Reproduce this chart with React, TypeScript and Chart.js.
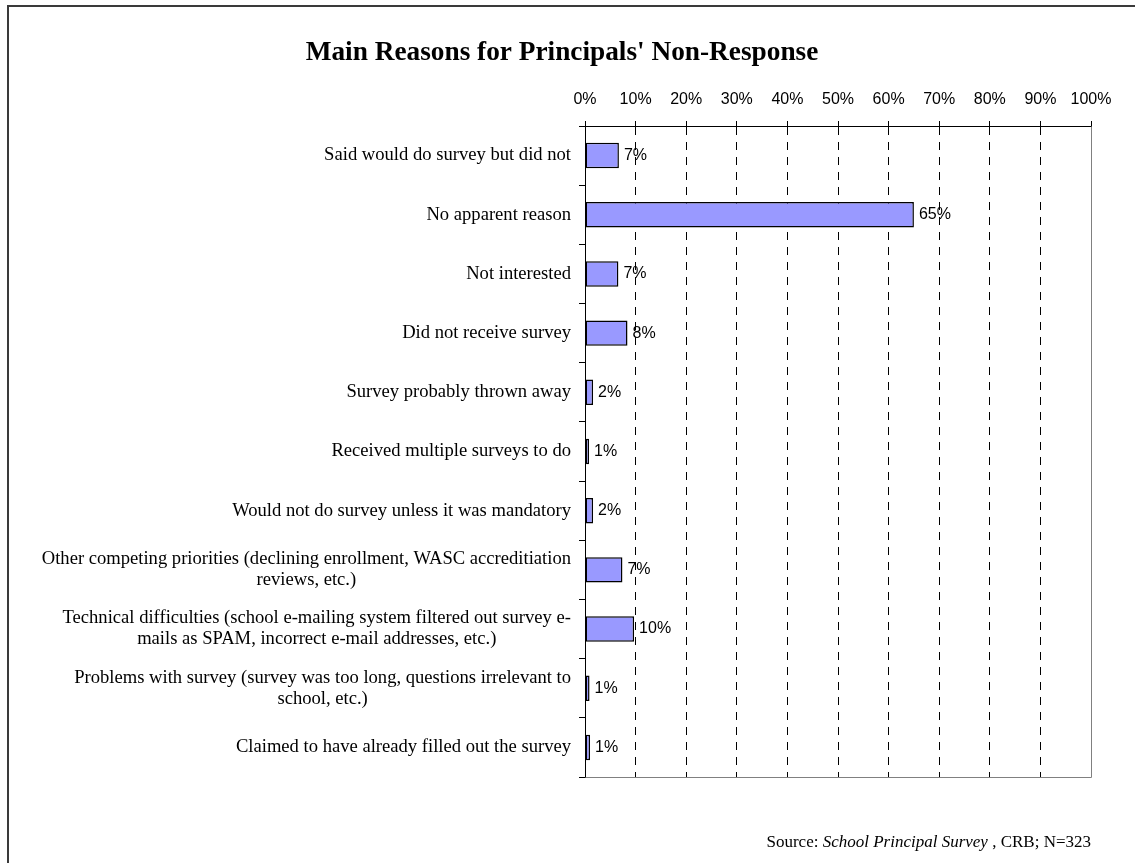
import React, { useEffect, useRef } from "react";
import { Chart, registerables } from "chart.js";

Chart.register(...registerables);

const TITLE = "Main Reasons for Principals' Non-Response";

const categories: string[][] = [
  ["Said would do survey but did not"],
  ["No apparent reason"],
  ["Not interested"],
  ["Did not receive survey"],
  ["Survey probably thrown away"],
  ["Received multiple surveys to do"],
  ["Would not do survey unless it was mandatory"],
  ["Other competing priorities (declining enrollment, WASC accreditiation", "reviews, etc.)"],
  ["Technical difficulties (school e-mailing system filtered out survey e-", "mails as SPAM, incorrect e-mail addresses, etc.)"],
  ["Problems with survey (survey was too long, questions irrelevant to", "school, etc.)"],
  ["Claimed to have already filled out the survey"],
];

const percentages: number[] = [6.7, 65.0, 6.6, 8.4, 1.6, 0.8, 1.6, 7.4, 9.7, 0.9, 1.0];

const tickValues: number[] = [0, 10, 20, 30, 40, 50, 60, 70, 80, 90, 100];

const sourceParts: { text: string; italic: boolean }[] = [
  { text: "Source: ", italic: false },
  { text: "School Principal Survey", italic: true },
  { text: " , CRB; N=323", italic: false },
];

const SERIF = "'Liberation Serif', 'Times New Roman', serif";
const SANS = "'Liberation Sans', Arial, sans-serif";

export default function App() {
  const ref = useRef<HTMLCanvasElement>(null);

  useEffect(() => {
    if (!ref.current) return;

    const yLabelPlugin = {
      id: "yLabels",
      afterDraw(chart: any) {
        const { ctx, chartArea } = chart;
        const yScale = chart.scales.y;
        ctx.save();
        ctx.font = `18.6px ${SERIF}`;
        ctx.fillStyle = "#000";
        ctx.textAlign = "center";
        ctx.textBaseline = "middle";
        const lineH = 21;
        const right = chartArea.left - 14;
        categories.forEach((lines, i) => {
          const cy = yScale.getPixelForValue(i);
          const maxW = Math.max(...lines.map((l) => ctx.measureText(l).width));
          const cx = right - maxW / 2;
          lines.forEach((l, j) => {
            ctx.fillText(l, cx, cy + (j - (lines.length - 1) / 2) * lineH);
          });
        });
        ctx.restore();
      },
    };

    const valueLabelPlugin = {
      id: "valueLabels",
      afterDatasetsDraw(chart: any) {
        const { ctx } = chart;
        const meta = chart.getDatasetMeta(0);
        ctx.save();
        ctx.font = `16px ${SANS}`;
        ctx.fillStyle = "#000";
        ctx.textAlign = "left";
        ctx.textBaseline = "middle";
        meta.data.forEach((bar: any, i: number) => {
          ctx.fillText(Math.round(percentages[i]) + "%", bar.x + 5, bar.y);
        });
        ctx.restore();
      },
    };

    const framePlugin = {
      id: "plotFrame",
      afterDraw(chart: any) {
        const { ctx, chartArea } = chart;
        ctx.save();
        ctx.strokeStyle = "#808080";
        ctx.lineWidth = 1;
        ctx.beginPath();
        ctx.moveTo(Math.round(chartArea.left) + 0.5, Math.round(chartArea.bottom) + 0.5);
        ctx.lineTo(Math.round(chartArea.right) + 0.5, Math.round(chartArea.bottom) + 0.5);
        ctx.lineTo(Math.round(chartArea.right) + 0.5, Math.round(chartArea.top) + 0.5);
        ctx.stroke();
        ctx.restore();
      },
    };

    const sourcePlugin = {
      id: "sourceNote",
      afterDraw(chart: any) {
        const { ctx, chartArea } = chart;
        ctx.save();
        ctx.fillStyle = "#000";
        ctx.textBaseline = "alphabetic";
        ctx.textAlign = "left";
        const fonts = sourceParts.map((p) => (p.italic ? `italic 17px ${SERIF}` : `17px ${SERIF}`));
        let total = 0;
        const widths = sourceParts.map((p, i) => {
          ctx.font = fonts[i];
          const w = ctx.measureText(p.text).width;
          total += w;
          return w;
        });
        let x = chartArea.right - total;
        const y = 847;
        sourceParts.forEach((p, i) => {
          ctx.font = fonts[i];
          ctx.fillText(p.text, x, y);
          x += widths[i];
        });
        ctx.restore();
      },
    };

    const chart = new Chart(ref.current, {
      type: "bar",
      data: {
        labels: categories,
        datasets: [
          {
            data: percentages,
            backgroundColor: "#9999FF",
            borderColor: "#000000",
            borderWidth: 1.5,
            borderSkipped: false,
            barPercentage: 0.43,
            categoryPercentage: 1,
          },
        ],
      },
      options: {
        indexAxis: "y",
        animation: false,
        responsive: false,
        maintainAspectRatio: false,
        layout: { padding: { left: 33, right: 44, top: 0, bottom: 86 } },
        plugins: {
          legend: { display: false },
          tooltip: { enabled: false },
          title: {
            display: true,
            text: TITLE,
            color: "#000",
            font: { family: SERIF, size: 27.3, weight: "bold", lineHeight: 1.2 },
            padding: { top: 37, bottom: 8 },
          },
        },
        scales: {
          x: {
            type: "linear",
            position: "top",
            min: 0,
            max: 100,
            afterBuildTicks: (scale: any) => {
              scale.ticks = tickValues.map((v) => ({ value: v }));
            },
            afterFit: (scale: any) => {
              scale.height = 48.24;
            },
            ticks: {
              callback: (v: any) => v + "%",
              color: "#000",
              font: { family: SANS, size: 16 },
              padding: 12,
              maxRotation: 0,
            },
            grid: {
              display: true,
              drawOnChartArea: true,
              drawTicks: true,
              tickLength: 5,
              color: (ctx: any) => (ctx.index === 10 ? "rgba(0,0,0,0)" : "#000"),
              tickColor: "#000",
              lineWidth: 1,
            },
            border: {
              display: true,
              color: "#000",
              width: 1,
              dash: [8, 7],
            },
          },
          y: {
            type: "category",
            position: "left",
            afterFit: (scale: any) => {
              scale.width = 552;
            },
            ticks: { display: false },
            grid: {
              display: true,
              drawOnChartArea: false,
              drawTicks: true,
              tickLength: 6,
              color: "#000",
              offset: true,
            },
            border: { display: true, color: "#000", width: 1 },
          },
        },
      },
      plugins: [yLabelPlugin, valueLabelPlugin, framePlugin, sourcePlugin],
    } as any);

    return () => chart.destroy();
  }, []);

  return (
    <>
      <div
        style={{
          position: "fixed",
          left: 7,
          top: 5,
          width: 2000,
          height: 2000,
          border: "2px solid #3a3a3a",
          boxSizing: "border-box",
        }}
      />
      <canvas
        ref={ref}
        width={1135}
        height={863}
        style={{ position: "fixed", left: 0, top: 0, width: 1135, height: 863 }}
      />
    </>
  );
}
